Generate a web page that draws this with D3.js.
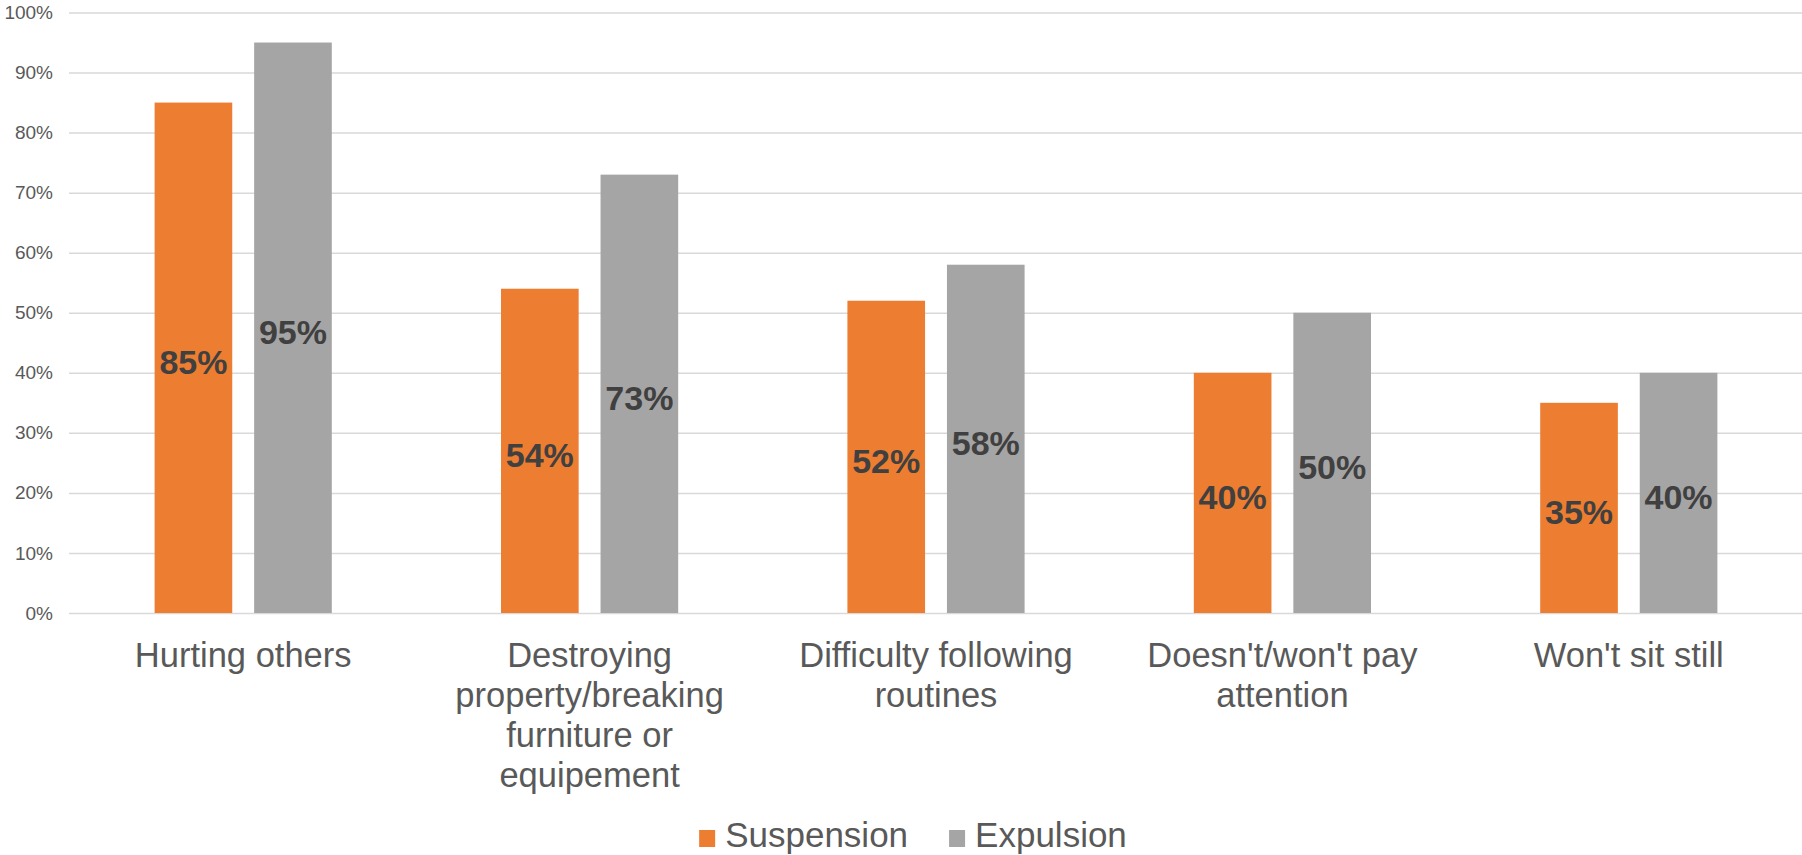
<!DOCTYPE html>
<html>
<head>
<meta charset="utf-8">
<script src="https://cdn.jsdelivr.net/npm/d3@7"></script>
<style>
  body { margin: 0; background: #fff; }
  svg { display: block; font-family: "Liberation Sans", Arial, sans-serif; }
</style>
</head>
<body>
<svg id="chart" width="1802" height="855"></svg>
<script>
// chart data
const categories = [
    "Hurting others",
    "Destroying property/breaking furniture or equipement",
    "Difficulty following routines",
    "Doesn't/won't pay attention",
    "Won't sit still"
];
const seriesNames = ["Suspension", "Expulsion"];
const suspension = [0.85, 0.54, 0.52, 0.40, 0.35];
const expulsion = [0.95, 0.73, 0.58, 0.50, 0.40];
const yTicks = [0, 0.1, 0.2, 0.3, 0.4, 0.5, 0.6, 0.7, 0.8, 0.9, 1.0];

const colors = { Suspension: "#ED7D31", Expulsion: "#A5A5A5" };

const svg = d3.select("#chart");
const plotLeft = 70, plotRight = 1802, plotTop = 12.5, plotBottom = 613;

const x0 = d3.scaleBand()
    .domain(categories)
    .range([plotLeft, plotRight])
    .padding(0);

const x1 = d3.scaleBand()
    .domain(seriesNames)
    .range([0, x0.bandwidth()])
    .paddingInner(0.22)
    .paddingOuter(0.85);

const y = d3.scaleLinear()
    .domain([0, 1])
    .range([plotBottom, plotTop]);

// gridlines + tick labels
const yAxis = svg.append("g")
    .attr("transform", `translate(${plotLeft},0)`)
    .call(d3.axisLeft(y)
        .tickValues(yTicks)
        .tickFormat(d3.format(".0%"))
        .tickSizeInner(-(plotRight - plotLeft))
        .tickSizeOuter(0)
        .tickPadding(17));
yAxis.select(".domain").remove();
yAxis.selectAll(".tick line")
    .attr("stroke", "#d9d9d9")
    .attr("stroke-width", 1.5)
    .attr("x1", -1);
yAxis.selectAll(".tick text")
    .attr("fill", "#595959")
    .style("font-size", "19px")
    .style("font-family", "'Liberation Sans', Arial, sans-serif");

// bars
const rows = categories.map((c, i) => ({
    category: c,
    values: [
        { key: "Suspension", value: suspension[i] },
        { key: "Expulsion", value: expulsion[i] }
    ]
}));

const groups = svg.selectAll(".group")
    .data(rows)
    .enter().append("g")
    .attr("class", "group")
    .attr("transform", d => `translate(${x0(d.category)},0)`);

groups.selectAll("rect")
    .data(d => d.values)
    .enter().append("rect")
    .attr("x", d => x1(d.key))
    .attr("y", d => y(d.value))
    .attr("width", x1.bandwidth())
    .attr("height", d => y(0) - y(d.value))
    .attr("fill", d => colors[d.key]);

// value labels, centered in the bar
groups.selectAll(".val")
    .data(d => d.values)
    .enter().append("text")
    .attr("class", "val")
    .attr("x", d => x1(d.key) + x1.bandwidth() / 2)
    .attr("y", d => y(d.value / 2) + 4)
    .attr("text-anchor", "middle")
    .attr("dominant-baseline", "central")
    .attr("fill", "#404040")
    .style("font-size", "34px")
    .style("font-weight", "bold")
    .text(d => d3.format(".0%")(d.value));

// category labels, wrapped to the band width
function wrapLines(text, maxWidth, probe) {
    const words = text.split(" ");
    const lines = [];
    let line = [];
    words.forEach(w => {
        const test = line.concat([w]).join(" ");
        probe.text(test);
        if (line.length && probe.node().getComputedTextLength() > maxWidth) {
            lines.push(line.join(" "));
            line = [w];
        } else {
            line.push(w);
        }
    });
    if (line.length) lines.push(line.join(" "));
    return lines;
}

const labelSize = 34.5;
const probe = svg.append("text").style("font-size", labelSize + "px");
categories.forEach(c => {
    const lines = wrapLines(c, 315, probe);
    const cx = x0(c) + x0.bandwidth() / 2;
    const t = svg.append("text")
        .attr("x", cx)
        .attr("y", 667)
        .attr("text-anchor", "middle")
        .attr("fill", "#595959")
        .style("font-size", labelSize + "px");
    lines.forEach((l, i) => {
        t.append("tspan")
            .attr("x", cx)
            .attr("dy", i === 0 ? 0 : 40)
            .text(l);
    });
});
probe.remove();

// legend
const legend = svg.append("g");
let lx = 0;
seriesNames.forEach(s => {
    const item = legend.append("g").attr("transform", `translate(${lx},0)`);
    item.append("rect")
        .attr("x", 0)
        .attr("y", -17)
        .attr("width", 16)
        .attr("height", 17)
        .attr("fill", colors[s]);
    const txt = item.append("text")
        .attr("x", 26)
        .attr("y", 0)
        .attr("fill", "#595959")
        .style("font-size", "35px")
        .text(s);
    lx += 26 + txt.node().getComputedTextLength() + 41;
});
const legendWidth = lx - 41;
legend.attr("transform", `translate(${913 - legendWidth / 2},847)`);
</script>
</body>
</html>
